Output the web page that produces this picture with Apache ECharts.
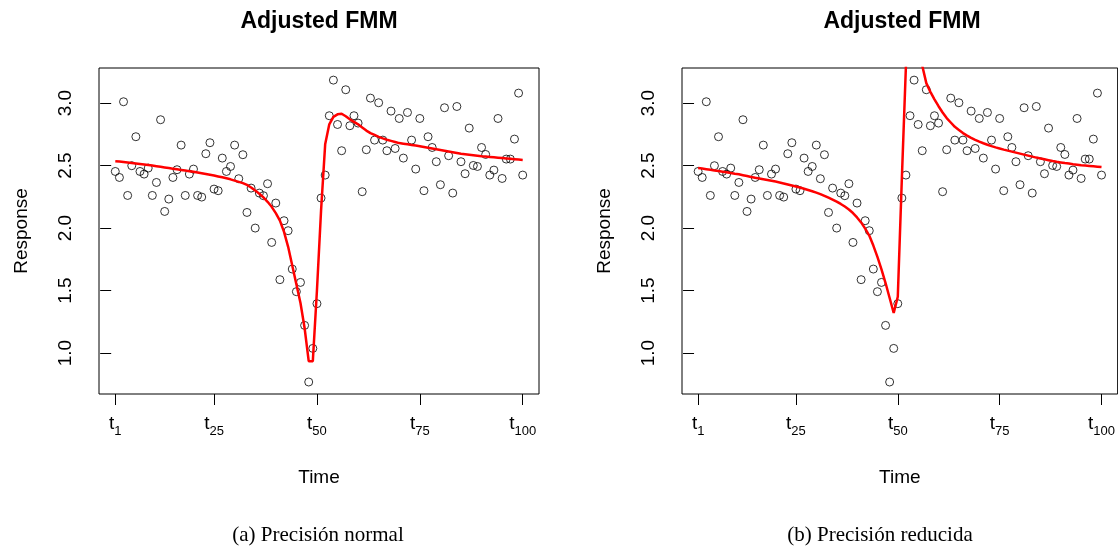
<!DOCTYPE html>
<html>
<head>
<meta charset="utf-8">
<script src="https://cdn.jsdelivr.net/npm/echarts@6/dist/echarts.min.js"></script>
<style>
html,body{margin:0;padding:0;background:#fff}
#divChart{width:1118px;height:549px}
</style>
</head>
<body>
<div id="divChart"></div>
<script>
// observed response, t1..t100 (same points on both panels)
var response = [
  2.453,2.405,3.011,2.261,2.499,2.731,2.453,2.432,2.480,2.261,
  2.365,2.867,2.133,2.232,2.405,2.467,2.664,2.261,2.432,2.472,
  2.261,2.248,2.595,2.683,2.312,2.299,2.560,2.453,2.493,2.664,
  2.395,2.587,2.125,2.320,2.000,2.280,2.259,2.355,1.885,2.200,
  1.587,2.059,1.979,1.672,1.491,1.565,1.221,0.768,1.037,1.395,
  2.240,2.424,2.899,3.184,2.829,2.619,3.107,2.819,2.899,2.840,
  2.291,2.627,3.040,2.704,3.003,2.704,2.619,2.936,2.637,2.877,
  2.560,2.925,2.704,2.472,2.877,2.299,2.731,2.645,2.531,2.347,
  2.963,2.579,2.280,2.973,2.531,2.435,2.800,2.501,2.493,2.645,
  2.589,2.424,2.464,2.877,2.397,2.552,2.552,2.712,3.080,2.424
];
// fitted FMM, normal precision
var fit_normal = [
  2.535,2.532,2.528,2.524,2.520,2.516,2.512,2.508,2.504,2.500,
  2.495,2.490,2.485,2.480,2.475,2.470,2.465,2.460,2.455,2.450,
  2.444,2.438,2.432,2.426,2.420,2.413,2.406,2.398,2.390,2.380,
  2.370,2.360,2.346,2.325,2.300,2.275,2.245,2.210,2.170,2.120,
  2.060,1.970,1.850,1.700,1.550,1.400,1.200,0.935,0.935,1.500,
  2.140,2.670,2.830,2.890,2.910,2.915,2.895,2.870,2.850,2.830,
  2.805,2.780,2.760,2.745,2.730,2.718,2.707,2.698,2.689,2.680,
  2.675,2.670,2.665,2.660,2.655,2.649,2.643,2.637,2.631,2.625,
  2.619,2.613,2.607,2.601,2.595,2.591,2.587,2.583,2.579,2.575,
  2.572,2.569,2.566,2.563,2.560,2.557,2.554,2.551,2.548,2.545
];
// fitted FMM, reduced precision (peak runs off the top)
var fit_reduced = [
  2.480,2.476,2.471,2.466,2.461,2.456,2.451,2.446,2.441,2.435,
  2.430,2.423,2.416,2.409,2.402,2.396,2.390,2.384,2.378,2.372,
  2.365,2.357,2.349,2.341,2.333,2.324,2.315,2.305,2.295,2.284,
  2.272,2.258,2.243,2.228,2.212,2.193,2.172,2.148,2.120,2.085,
  2.045,1.995,1.940,1.860,1.770,1.670,1.560,1.440,1.320,1.450,
  2.400,3.300,4.000,4.000,3.800,3.300,3.160,3.090,3.030,2.975,
  2.925,2.880,2.845,2.810,2.785,2.760,2.740,2.722,2.706,2.692,
  2.679,2.667,2.656,2.646,2.637,2.628,2.620,2.612,2.604,2.596,
  2.588,2.580,2.572,2.564,2.557,2.550,2.543,2.536,2.530,2.525,
  2.520,2.516,2.511,2.507,2.503,2.500,2.497,2.494,2.491,2.488
];
var time_ticks = [1,25,50,75,100];
var resp_ticks = [1.0,1.5,2.0,2.5,3.0];
var titles = ['Adjusted FMM','Adjusted FMM'];
var captions = ['(a) Precisión normal','(b) Precisión reducida'];

var sans = 'Liberation Sans, Arial, sans-serif';
var serif = 'Liberation Serif, Times New Roman, serif';
var pts = a => a.map((v,i)=>[i+1,v]);

var panels = [
  {left:99, width:440, fit:fit_normal, cap_x:318},
  {left:682, width:441, fit:fit_reduced, cap_x:880}
];

var grid=[], xAxis=[], yAxis=[], series=[], graphic=[];
panels.forEach((p,k)=>{
  grid.push({left:p.left, top:68, width:p.width, height:326, show:true,
    borderColor:'#000', borderWidth:1, backgroundColor:'transparent'});
  xAxis.push({type:'value', gridIndex:k, min:-2.96, max:103.96,
    name:'Time', nameLocation:'middle', nameGap:74,
    nameTextStyle:{fontSize:19, color:'#000', fontFamily:sans},
    axisLine:{show:false}, splitLine:{show:false},
    axisTick:{show:true, length:11, customValues:time_ticks, lineStyle:{color:'#000', width:1}},
    axisLabel:{show:true, customValues:time_ticks, margin:20,
      formatter:v=>'{t|t}{s|'+v+'}',
      rich:{
        t:{fontSize:19, color:'#000', fontFamily:sans, verticalAlign:'bottom', padding:[0,0,5,0]},
        s:{fontSize:13, color:'#000', fontFamily:sans, verticalAlign:'bottom'}
      }}
  });
  yAxis.push({type:'value', gridIndex:k, min:0.672, max:3.281,
    name:'Response', nameLocation:'middle', nameGap:68, nameRotate:90,
    nameTextStyle:{fontSize:19, color:'#000', fontFamily:sans},
    axisLine:{show:false}, splitLine:{show:false},
    axisTick:{show:true, length:11, customValues:resp_ticks, lineStyle:{color:'#000', width:1}},
    axisLabel:{show:true, customValues:resp_ticks, rotate:90, margin:24,
      fontSize:19, color:'#000', fontFamily:sans, formatter:v=>v.toFixed(1)}
  });
  series.push({type:'scatter', xAxisIndex:k, yAxisIndex:k, data:pts(response),
    symbol:'circle', symbolSize:8, z:2,
    itemStyle:{color:'transparent', borderColor:'#000', borderWidth:1}});
  series.push({type:'line', xAxisIndex:k, yAxisIndex:k, data:pts(p.fit),
    symbol:'none', clip:true, z:3,
    lineStyle:{color:'#ff0000', width:2.5}});
  graphic.push({type:'text', x:p.left+220, y:22, style:{text:titles[k], fill:'#000',
    font:'bold 23px '+sans, textAlign:'center', textVerticalAlign:'middle'}});
  graphic.push({type:'text', x:p.cap_x, y:535, style:{text:captions[k], fill:'#000',
    font:'21px '+serif, textAlign:'center', textVerticalAlign:'middle'}});
});

var chart = echarts.init(document.getElementById('divChart'), null, {renderer:'canvas'});
chart.setOption({
  animation:false,
  backgroundColor:'#fff',
  grid:grid, xAxis:xAxis, yAxis:yAxis, series:series, graphic:graphic
});
</script>
</body>
</html>
